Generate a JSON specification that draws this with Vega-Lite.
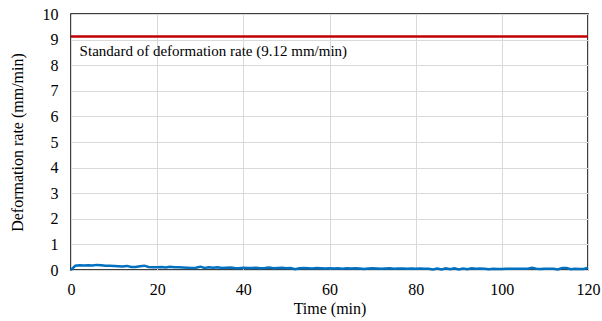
{
  "$schema": "https://vega.github.io/schema/vega-lite/v6.json",
  "width": 517,
  "height": 256,
  "autosize": {"type": "none"},
  "padding": {"left": 71, "top": 14, "right": 14, "bottom": 51},
  "background": "white",
  "config": {
    "font": "Liberation Serif",
    "view": {"stroke": "black", "strokeWidth": 1.5}
  },
  "datasets": {
    "rate": [
      {"t": 0, "v": 0}, {"t": 1, "v": 0.17}, {"t": 2, "v": 0.19}, {"t": 3, "v": 0.18}, {"t": 4, "v": 0.19},
      {"t": 5, "v": 0.18}, {"t": 6, "v": 0.2}, {"t": 7, "v": 0.19}, {"t": 8, "v": 0.17}, {"t": 9, "v": 0.17},
      {"t": 10, "v": 0.16}, {"t": 11, "v": 0.15}, {"t": 12, "v": 0.14}, {"t": 13, "v": 0.16}, {"t": 14, "v": 0.12},
      {"t": 15, "v": 0.12}, {"t": 16, "v": 0.15}, {"t": 17, "v": 0.17}, {"t": 18, "v": 0.12}, {"t": 19, "v": 0.11},
      {"t": 20, "v": 0.11}, {"t": 21, "v": 0.12}, {"t": 22, "v": 0.1}, {"t": 23, "v": 0.13}, {"t": 24, "v": 0.11},
      {"t": 25, "v": 0.11}, {"t": 26, "v": 0.1}, {"t": 27, "v": 0.09}, {"t": 28, "v": 0.08}, {"t": 29, "v": 0.09},
      {"t": 30, "v": 0.13}, {"t": 31, "v": 0.08}, {"t": 32, "v": 0.11}, {"t": 33, "v": 0.09}, {"t": 34, "v": 0.11},
      {"t": 35, "v": 0.08}, {"t": 36, "v": 0.09}, {"t": 37, "v": 0.1}, {"t": 38, "v": 0.08}, {"t": 39, "v": 0.07},
      {"t": 40, "v": 0.09}, {"t": 41, "v": 0.08}, {"t": 42, "v": 0.08}, {"t": 43, "v": 0.09}, {"t": 44, "v": 0.07},
      {"t": 45, "v": 0.08}, {"t": 46, "v": 0.1}, {"t": 47, "v": 0.07}, {"t": 48, "v": 0.08}, {"t": 49, "v": 0.09},
      {"t": 50, "v": 0.07}, {"t": 51, "v": 0.08}, {"t": 52, "v": 0.03}, {"t": 53, "v": 0.07}, {"t": 54, "v": 0.08},
      {"t": 55, "v": 0.07}, {"t": 56, "v": 0.06}, {"t": 57, "v": 0.08}, {"t": 58, "v": 0.07}, {"t": 59, "v": 0.06},
      {"t": 60, "v": 0.07}, {"t": 61, "v": 0.06}, {"t": 62, "v": 0.07}, {"t": 63, "v": 0.05}, {"t": 64, "v": 0.07},
      {"t": 65, "v": 0.06}, {"t": 66, "v": 0.07}, {"t": 67, "v": 0.06}, {"t": 68, "v": 0.04}, {"t": 69, "v": 0.06},
      {"t": 70, "v": 0.07}, {"t": 71, "v": 0.06}, {"t": 72, "v": 0.05}, {"t": 73, "v": 0.06}, {"t": 74, "v": 0.07},
      {"t": 75, "v": 0.05}, {"t": 76, "v": 0.06}, {"t": 77, "v": 0.06}, {"t": 78, "v": 0.05}, {"t": 79, "v": 0.06},
      {"t": 80, "v": 0.05}, {"t": 81, "v": 0.06}, {"t": 82, "v": 0.05}, {"t": 83, "v": 0.05}, {"t": 84, "v": 0.02},
      {"t": 85, "v": 0.06}, {"t": 86, "v": 0.02}, {"t": 87, "v": 0.07}, {"t": 88, "v": 0.03}, {"t": 89, "v": 0.07},
      {"t": 90, "v": 0.02}, {"t": 91, "v": 0.06}, {"t": 92, "v": 0.03}, {"t": 93, "v": 0.07}, {"t": 94, "v": 0.05},
      {"t": 95, "v": 0.06}, {"t": 96, "v": 0.05}, {"t": 97, "v": 0.03}, {"t": 98, "v": 0.05}, {"t": 99, "v": 0.04},
      {"t": 100, "v": 0.04}, {"t": 101, "v": 0.05}, {"t": 102, "v": 0.05}, {"t": 103, "v": 0.05}, {"t": 104, "v": 0.05},
      {"t": 105, "v": 0.05}, {"t": 106, "v": 0.05}, {"t": 107, "v": 0.09}, {"t": 108, "v": 0.05}, {"t": 109, "v": 0.04},
      {"t": 110, "v": 0.05}, {"t": 111, "v": 0.05}, {"t": 112, "v": 0.05}, {"t": 113, "v": 0.02}, {"t": 114, "v": 0.08},
      {"t": 115, "v": 0.08}, {"t": 116, "v": 0.03}, {"t": 117, "v": 0.05}, {"t": 118, "v": 0.04}, {"t": 119, "v": 0.04},
      {"t": 120, "v": 0.09}
    ],
    "standard": [{"t": 0, "v": 9.12}, {"t": 120, "v": 9.12}],
    "label": [{"t": 2.0, "v": 8.55, "text": "Standard of deformation rate (9.12 mm/min)"}]
  },
  "encoding": {
    "x": {"field": "t", "type": "quantitative", "title": "Time (min)",
          "scale": {"domain": [0, 120], "nice": false},
          "axis": {"values": [0, 20, 40, 60, 80, 100, 120], "labelPadding": 11, "titlePadding": 3,
                   "labelFont": "Times New Roman", "titleFont": "Times New Roman",
                   "labelFontSize": 16, "titleFontSize": 16, "titleFontWeight": 400,
                   "labelColor": "black", "titleColor": "black", "gridColor": "#d9d9d9",
                   "domain": false, "ticks": false, "labelOverlap": false, "labelFlush": false}},
    "y": {"field": "v", "type": "quantitative", "title": "Deformation rate (mm/min)",
          "scale": {"domain": [0, 10], "nice": false},
          "axis": {"values": [0, 1, 2, 3, 4, 5, 6, 7, 8, 9, 10], "labelPadding": 13, "titlePadding": 17,
                   "labelFont": "Times New Roman", "titleFont": "Times New Roman",
                   "labelFontSize": 16, "titleFontSize": 16, "titleFontWeight": 400,
                   "labelColor": "black", "titleColor": "black", "gridColor": "#d9d9d9",
                   "domain": false, "ticks": false, "labelOverlap": false, "labelFlush": false}}
  },
  "layer": [
    {
      "data": {"name": "rate"},
      "mark": {"type": "line", "color": "#0070C0", "strokeWidth": 2.5}
    },
    {
      "data": {"name": "standard"},
      "mark": {"type": "line", "color": "#C00000", "strokeWidth": 2.5}
    },
    {
      "data": {"name": "label"},
      "mark": {"type": "text", "align": "left", "baseline": "middle", "font": "Times New Roman", "fontSize": 15, "color": "black"},
      "encoding": {"text": {"field": "text"}}
    }
  ]
}
